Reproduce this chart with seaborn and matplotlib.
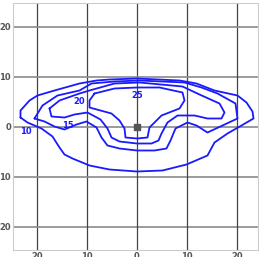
import pandas as pd
import seaborn as sns
import matplotlib.pyplot as plt
from matplotlib.ticker import FuncFormatter

sns.set_style('white')
plt.rcParams['font.family'] = ['DejaVu Sans']

# contour lines (closed loops)
c10_x = [-23.3, -21.9, -19.1, -16.9, -15.5, -14.5, -12.9, -9.5, -5.5, 0.0, 5.1, 9.9, 14.1, 15.5, 18.1,
         20.9, 23.3, 23.1, 21.9, 20.1, 15.5, 11.9, 8.5, 0.0, -5.5, -8.1, -11.5, -16.5, -19.9, -21.5, -23.3, -23.3]
c10_y = [1.9, 0.9, -0.3, -1.9, -4.1, -5.5, -6.3, -7.7, -8.5, -8.9, -8.7, -7.5, -5.7, -3.1, -1.3,
         0.3, 1.7, 3.1, 4.9, 6.3, 7.3, 8.7, 9.3, 9.7, 9.5, 9.3, 8.7, 7.3, 6.3, 5.3, 3.3, 1.9]

c15_x = [-20.5, -18.5, -16.5, -14.5, -12.1, -10.1, -8.1, -7.1, -5.9, -3.5, 0.0, 3.5, 5.9, 6.7, 7.7, 10.1,
         11.9, 14.1, 20.1, 19.7, 16.1, 12.9, 9.5, 0.5, -4.5, -9.1, -11.5, -15.9, -18.9, -20.5]
c15_y = [1.7, 1.1, 0.1, -0.5, 0.5, 1.1, -0.1, -2.1, -3.7, -4.3, -4.7, -4.7, -4.3, -2.7, -0.3, 0.9,
         0.3, -1.1, 1.7, 4.7, 6.7, 7.9, 8.9, 9.3, 9.1, 8.7, 7.3, 6.3, 4.3, 1.7]

c20_x = [-17.5, -17.1, -14.5, -12.5, -9.9, -7.3, -5.9, -5.1, -3.5, 0.0, 2.9, 4.3, 4.9, 6.1, 8.1, 11.5,
         14.1, 16.9, 17.5, 16.5, 12.5, 9.1, 0.5, -4.5, -9.5, -11.5, -15.5, -17.5]
c20_y = [3.7, 2.1, 1.9, 2.5, 2.9, 1.5, -0.3, -2.1, -2.9, -3.3, -3.3, -2.7, -1.3, 0.9, 2.3, 2.3,
         1.7, 1.7, 2.9, 4.7, 6.5, 8.1, 8.9, 8.7, 7.3, 6.7, 5.3, 3.7]

c25_x = [-8.5, -9.5, -9.5, -5.1, -3.5, -2.5, -2.3, 0.0, 2.1, 2.5, 4.9, 8.5, 9.5, 9.1, 4.5, 0.0, -4.5, -8.5]
c25_y = [6.7, 5.3, 3.9, 2.7, 1.3, -0.3, -2.1, -2.3, -2.1, -0.1, 2.3, 3.7, 5.3, 6.9, 7.9, 7.9, 7.7, 6.7]

levels = [10, 15, 20, 25]
label_x = [-22.3, -13.9, -11.5, 0.0]
label_y = [-0.9, 0.3, 5.1, 6.3]

center_x = [0]
center_y = [0]

rows = []
for lev, xs, ys in zip(levels, [c10_x, c15_x, c20_x, c25_x], [c10_y, c15_y, c20_y, c25_y]):
    for i, (a, b) in enumerate(zip(xs, ys)):
        rows.append({'level': lev, 'order': i, 'x': a, 'y': b})
df = pd.DataFrame(rows)

fig = plt.figure(figsize=(2.59, 2.57), dpi=100)
ax = fig.add_axes([13 / 259, 1 - 250 / 257, 245 / 259, 247 / 257])

# grid
for v in [-20, -10, 0, 10, 20]:
    ax.axvline(v, color='#444444', lw=0.9, zorder=1)
    ax.axhline(v, color='#8a8a8a', lw=1.2, zorder=1)

sns.lineplot(data=df, x='x', y='y', units='level', estimator=None, sort=False,
             color='#1a1aff', lw=1.3, ax=ax, zorder=3)

for lev, lx, ly in zip(levels, label_x, label_y):
    ax.text(lx, ly, str(lev), color='#1a1aff', fontsize=6, fontweight='bold',
            ha='center', va='center', zorder=4)

ax.scatter(center_x, center_y, marker='s', s=22, color='#555555', zorder=5)

ax.set_xlim(-24.8, 24.2)
ax.set_ylim(-24.6, 24.8)
ticks = [-20, -10, 0, 10, 20]
ax.set_xticks(ticks)
ax.set_yticks(ticks)
fmt = FuncFormatter(lambda v, p: f'{abs(int(v))}')
ax.xaxis.set_major_formatter(fmt)
ax.yaxis.set_major_formatter(fmt)
ax.tick_params(axis='both', length=0, pad=1.5, labelsize=6, labelcolor='#555555')
for lab in ax.get_xticklabels() + ax.get_yticklabels():
    lab.set_fontweight('bold')
ax.set_xlabel('')
ax.set_ylabel('')
for s in ax.spines.values():
    s.set_color('#cccccc')
    s.set_linewidth(0.8)

fig.savefig('out.png', dpi=100)
